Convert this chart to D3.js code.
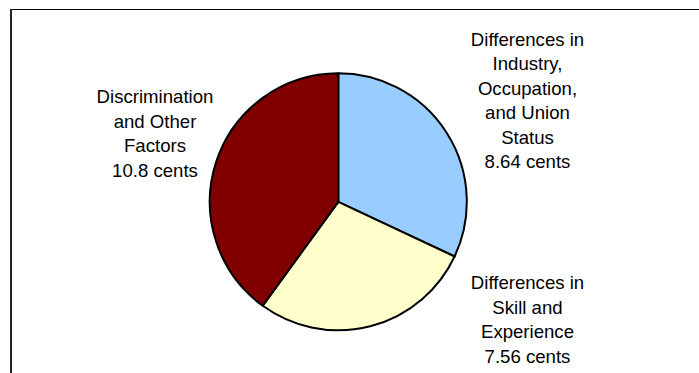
<!DOCTYPE html>
<html>
<head>
<meta charset="utf-8">
<script src="https://cdn.jsdelivr.net/npm/d3@7"></script>
<style>
  html, body { margin: 0; padding: 0; background: #fff; }
  svg { display: block; }
  text { font-family: "Liberation Sans", Arial, sans-serif; font-size: 18.6px; fill: #000; }
</style>
</head>
<body>
<svg id="chart" width="699" height="373"></svg>
<script>
// Wage gap components (cents)
const categories = [
  "Differences in Industry, Occupation, and Union Status",
  "Differences in Skill and Experience",
  "Discrimination and Other Factors"
];
const values = [8.64, 7.56, 10.8];
const colors = ["#99CCFF", "#FFFFCC", "#800000"];
// Label lines for each slice (the last line is the value)
const labelLines = [
  ["Differences in", "Industry,", "Occupation,", "and Union", "Status"],
  ["Differences in", "Skill and", "Experience"],
  ["Discrimination", "and Other", "Factors"]
];

const svg = d3.select("#chart");
const W = 699, H = 373;

// Chart area frame (top and left edges visible)
svg.append("line").attr("x1", 11).attr("x2", W).attr("y1", 9.5).attr("y2", 9.5)
  .attr("stroke", "#000").attr("stroke-width", 1.2);
svg.append("line").attr("x1", 11).attr("x2", 11).attr("y1", 9).attr("y2", H)
  .attr("stroke", "#222").attr("stroke-width", 2);

const cx = 338.3, cy = 201.8, r = 128.5;

const pie = d3.pie().sort(null).value(d => d)
  .startAngle(0).endAngle(2 * Math.PI);
const arcs = pie(values);
const arc = d3.arc().innerRadius(0).outerRadius(r);

const g = svg.append("g").attr("transform", `translate(${cx},${cy})`);
g.selectAll("path.slice")
  .data(arcs)
  .join("path")
  .attr("class", "slice")
  .attr("d", arc)
  .attr("fill", (d, i) => colors[i])
  .attr("stroke", "#000")
  .attr("stroke-width", 2)
  .attr("stroke-linejoin", "round");

// Label anchor points: centre x and first baseline
const labelPos = [
  { x: 527.5, y: 45.7 },
  { x: 527.5, y: 289.3 },
  { x: 155, y: 103 }
];
const lineH = 24.5;

arcs.forEach((a, i) => {
  const lines = labelLines[i].concat([d3.format("")(values[i]) + " cents"]);
  const t = svg.append("text")
    .attr("text-anchor", "middle")
    .attr("x", labelPos[i].x)
    .attr("y", labelPos[i].y);
  lines.forEach((ln, k) => {
    t.append("tspan")
      .attr("x", labelPos[i].x)
      .attr("dy", k === 0 ? 0 : lineH)
      .text(ln);
  });
});
</script>
</body>
</html>
